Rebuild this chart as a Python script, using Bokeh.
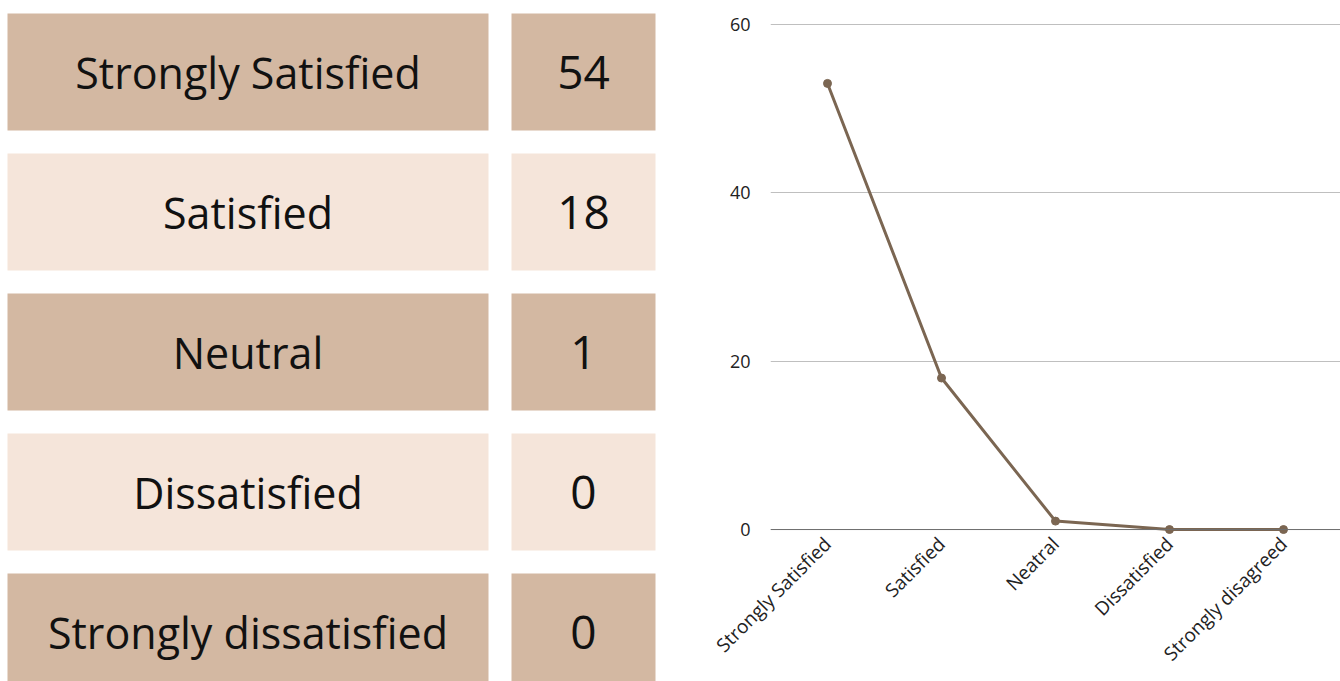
from math import pi
from bokeh.plotting import figure
from bokeh.layouts import row
from bokeh.models import ColumnDataSource, Range1d, FactorRange, FixedTicker, Span
from bokeh.core.properties import value
from bokeh.embed import file_html
from bokeh.resources import INLINE

# ---- data ----
table_labels = ["Strongly Satisfied", "Satisfied", "Neutral", "Dissatisfied", "Strongly dissatisfied"]
table_counts = [54, 18, 1, 0, 0]

chart_categories = ["Strongly Satisfied", "Satisfied", "Neatral", "Dissatisfied", "Strongly disagreed"]
chart_values = [53, 18, 1, 0, 0]
y_ticks = [0, 20, 40, 60]

DARK = "#D3B8A2"
LIGHT = "#F5E5DA"
LINE = "#7B6652"
FONT = "Open Sans"

# ---- left: table ----
n = len(table_labels)
row_top = [13 + 140 * i for i in range(n)]
row_bot = [t + 117 for t in row_top]
fills = [DARK if i % 2 == 0 else LIGHT for i in range(n)]
tsrc = ColumnDataSource(dict(
    top=row_top, bottom=row_bot, fill=fills,
    ymid=[(a + b) / 2 for a, b in zip(row_top, row_bot)],
    label=table_labels, count=[str(c) for c in table_counts],
))

left = figure(width=698, height=681, x_range=Range1d(0, 698), y_range=Range1d(681, 0),
              output_backend="svg", toolbar_location=None, title=None,
              min_border=0, min_border_left=0, min_border_right=0,
              min_border_top=0, min_border_bottom=0, frame_align=False)
left.axis.visible = False
left.grid.visible = False
left.outline_line_color = None
left.background_fill_color = "white"
left.quad(left=7, right=488, top="top", bottom="bottom", fill_color="fill",
          line_color=None, source=tsrc)
left.quad(left=511, right=655, top="top", bottom="bottom", fill_color="fill",
          line_color=None, source=tsrc)
left.text(x=247.5, y="ymid", text="label", source=tsrc, text_align="center",
          text_baseline="middle", text_font=value(FONT), text_font_size="43px",
          text_color="#111111")
left.text(x=583, y="ymid", text="count", source=tsrc, text_align="center",
          text_baseline="middle", text_font=value(FONT), text_font_size="46px",
          text_color="#111111")

# ---- right: line chart ----
right = figure(width=642, height=681, x_range=FactorRange(*chart_categories, range_padding=0),
               y_range=Range1d(-0.59, 60.475), output_backend="svg", toolbar_location=None,
               title=None, min_border_left=72, min_border_right=0, min_border_top=20,
               min_border_bottom=147, frame_align=False)
right.outline_line_color = None
right.xgrid.visible = False
right.ygrid.ticker = FixedTicker(ticks=y_ticks)
right.ygrid.grid_line_color = "#BFBFBF"
right.ygrid.grid_line_width = 1
right.yaxis.ticker = FixedTicker(ticks=y_ticks)
for ax in (right.xaxis[0], right.yaxis[0]):
    ax.axis_line_color = None
    ax.major_tick_line_color = None
    ax.minor_tick_line_color = None
    ax.major_label_text_font = FONT
    ax.major_label_text_color = "#222222"
right.xaxis.major_label_text_font_size = "19px"
right.yaxis.major_label_text_font_size = "18px"
right.yaxis.major_label_standoff = 14
right.xaxis.major_label_orientation = pi / 4
right.xaxis.major_label_standoff = 0
right.add_layout(Span(location=0, dimension="width", line_color="#6E6E6E", line_width=1))

csrc = ColumnDataSource(dict(x=chart_categories, y=chart_values))
right.line("x", "y", source=csrc, line_color=LINE, line_width=3)
right.scatter("x", "y", source=csrc, size=8, fill_color=LINE, line_color=LINE)

layout = row(left, right)
open("out.html", "w").write(file_html(layout, INLINE))
